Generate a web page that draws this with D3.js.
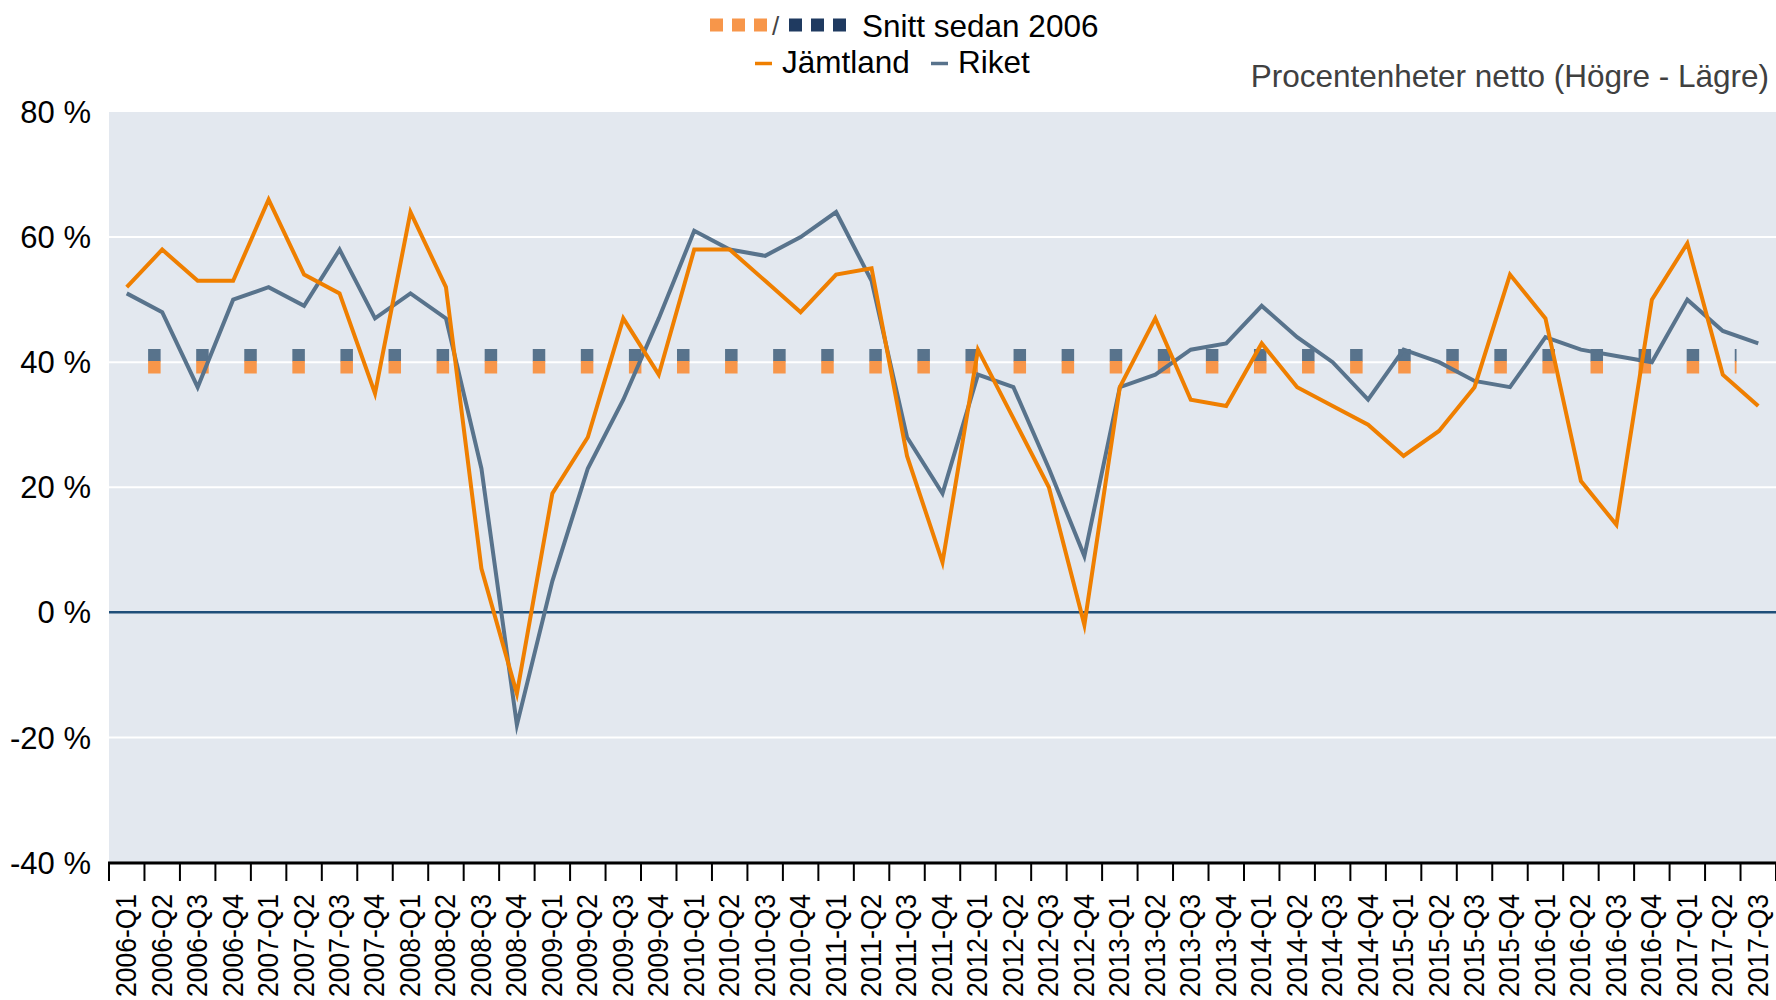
<!DOCTYPE html>
<html>
<head>
<meta charset="utf-8">
<script src="https://cdn.jsdelivr.net/npm/d3@7"></script>
<style>
  body { margin: 0; background: #fff; }
  svg { display: block; font-family: "Liberation Sans", Arial, sans-serif; }
</style>
</head>
<body>
<svg></svg>
<script>
const quarters = [
  "2006-Q1", "2006-Q2", "2006-Q3", "2006-Q4",
  "2007-Q1", "2007-Q2", "2007-Q3", "2007-Q4",
  "2008-Q1", "2008-Q2", "2008-Q3", "2008-Q4",
  "2009-Q1", "2009-Q2", "2009-Q3", "2009-Q4",
  "2010-Q1", "2010-Q2", "2010-Q3", "2010-Q4",
  "2011-Q1", "2011-Q2", "2011-Q3", "2011-Q4",
  "2012-Q1", "2012-Q2", "2012-Q3", "2012-Q4",
  "2013-Q1", "2013-Q2", "2013-Q3", "2013-Q4",
  "2014-Q1", "2014-Q2", "2014-Q3", "2014-Q4",
  "2015-Q1", "2015-Q2", "2015-Q3", "2015-Q4",
  "2016-Q1", "2016-Q2", "2016-Q3", "2016-Q4",
  "2017-Q1", "2017-Q2", "2017-Q3",
];

const jamtland = [
  52, 58, 53, 53, 66, 54, 51, 35, 64, 52, 7, -13,
  19, 28, 47, 38, 58, 58, 53, 48, 54, 55, 25, 8,
  42, 31, 20, -2, 36, 47, 34, 33, 43, 36, 33, 30,
  25, 29, 36, 54, 47, 21, 14, 50, 59, 38, 33,
];

const riket = [
  51, 48, 36, 50, 52, 49, 58, 47, 51, 47, 23, -18,
  5, 23, 34, 47, 61, 58, 57, 60, 64, 53, 28, 19,
  38, 36, 23, 9, 36, 38, 42, 43, 49, 44, 40, 34,
  42, 40, 37, 36, 44, 42, 41, 40, 50, 45, 43,
];

// average since 2006 (drawn as square-dotted lines)
const averages = [
  { name: "Riket", value: 41.1, color: "#58738C" },
  { name: "Jämtland", value: 39.2, color: "#F7964A" },
];

const yTicks = [-40, -20, 0, 20, 40, 60, 80];

const width = 1776;
const height = 1000;
const margin = { top: 112, right: 0, bottom: 137.5, left: 109 };

const svg = d3.select("svg").attr("width", width).attr("height", height);

const x = d3
  .scaleBand()
  .domain(quarters)
  .range([margin.left, width - margin.right])
  .padding(0);
const y = d3
  .scaleLinear()
  .domain([-40, 80])
  .range([height - margin.bottom, margin.top]);

const bw = x.bandwidth();
const cx = (q) => x(q) + bw / 2;

// plot background
svg
  .append("rect")
  .attr("x", margin.left)
  .attr("y", y(80))
  .attr("width", width - margin.right - margin.left)
  .attr("height", y(-40) - y(80))
  .attr("fill", "#E3E8EF");

// gridlines
svg
  .append("g")
  .selectAll("line")
  .data(yTicks.filter((t) => t !== 0 && t !== 80))
  .enter()
  .append("line")
  .attr("x1", margin.left)
  .attr("x2", width - margin.right)
  .attr("y1", (t) => y(t))
  .attr("y2", (t) => y(t))
  .attr("stroke", (t) => (t === -40 ? "#c8ccd2" : "#fff"))
  .attr("stroke-width", 2);

// zero line
svg
  .append("line")
  .attr("x1", margin.left)
  .attr("x2", width - margin.right)
  .attr("y1", y(0))
  .attr("y2", y(0))
  .attr("stroke", "#1F4E79")
  .attr("stroke-width", 2.5);

// y labels
svg
  .append("g")
  .selectAll("text")
  .data(yTicks)
  .enter()
  .append("text")
  .attr("x", 91)
  .attr("y", (t) => y(t))
  .attr("dy", "0.36em")
  .attr("text-anchor", "end")
  .attr("font-size", 31)
  .attr("fill", "#000")
  .text((t) => `${t} %`);

// average markers
const avgStart = cx(quarters[0]);
const avgEnd = x(quarters[quarters.length - 1]) - 4;
svg
  .append("g")
  .selectAll("line")
  .data(averages)
  .enter()
  .append("line")
  .attr("x1", avgStart)
  .attr("x2", avgEnd)
  .attr("y1", (d) => y(d.value))
  .attr("y2", (d) => y(d.value))
  .attr("stroke", (d) => d.color)
  .attr("stroke-width", 12.5)
  .attr("stroke-dasharray", "12.5 35.58")
  .attr("stroke-dashoffset", 26.7);

// series lines
const line = d3
  .line()
  .x((d, i) => cx(quarters[i]))
  .y((d) => y(d));

const series = [
  { name: "Riket", values: riket, color: "#58738C" },
  { name: "Jämtland", values: jamtland, color: "#EF7F00" },
];

svg
  .append("g")
  .selectAll("path")
  .data(series)
  .enter()
  .append("path")
  .attr("d", (s) => line(s.values))
  .attr("fill", "none")
  .attr("stroke", (s) => s.color)
  .attr("stroke-width", 4)
  .attr("stroke-linejoin", "miter")
  .attr("stroke-miterlimit", 10);

// x axis
const axisY = y(-40) + 0.5;
svg
  .append("line")
  .attr("x1", margin.left - 1)
  .attr("x2", width - margin.right)
  .attr("y1", axisY)
  .attr("y2", axisY)
  .attr("stroke", "#000")
  .attr("stroke-width", 3);

svg
  .append("g")
  .selectAll("line")
  .data(quarters.concat(["end"]))
  .enter()
  .append("line")
  .attr("x1", (q, i) => margin.left + i * bw)
  .attr("x2", (q, i) => margin.left + i * bw)
  .attr("y1", axisY)
  .attr("y2", axisY + 18)
  .attr("stroke", "#000")
  .attr("stroke-width", 2);

svg
  .append("g")
  .selectAll("text")
  .data(quarters)
  .enter()
  .append("text")
  .attr("transform", (q) => `translate(${cx(q) - 1},${axisY + 31}) rotate(-90)`)
  .attr("dy", "0.36em")
  .attr("text-anchor", "end")
  .attr("font-size", 29)
  .attr("textLength", 103)
  .attr("lengthAdjust", "spacingAndGlyphs")
  .attr("fill", "#000")
  .text((q) => q);

// unit label
svg
  .append("text")
  .attr("x", 1769)
  .attr("y", 86.5)
  .attr("text-anchor", "end")
  .attr("font-size", 31.5)
  .attr("fill", "#404040")
  .text("Procentenheter netto (Högre - Lägre)");

// legend
const legend = svg.append("g");
const legendSquares = [
  { x: 710, color: "#F7964A" },
  { x: 732, color: "#F7964A" },
  { x: 754, color: "#F7964A" },
  { x: 789, color: "#1F3A60" },
  { x: 811, color: "#1F3A60" },
  { x: 833, color: "#1F3A60" },
];
legend
  .selectAll("rect")
  .data(legendSquares)
  .enter()
  .append("rect")
  .attr("x", (d) => d.x)
  .attr("y", 18.5)
  .attr("width", 13)
  .attr("height", 13)
  .attr("fill", (d) => d.color);

legend
  .append("text")
  .attr("x", 772)
  .attr("y", 35)
  .attr("font-size", 26)
  .attr("fill", "#444")
  .text("/");

legend
  .append("text")
  .attr("x", 862)
  .attr("y", 36.5)
  .attr("font-size", 31.5)
  .attr("fill", "#000")
  .text("Snitt sedan 2006");

const legendLines = [
  { x: 755, tx: 782, label: "Jämtland", color: "#EF7F00" },
  { x: 931, tx: 958, label: "Riket", color: "#58738C" },
];
legendLines.forEach((d) => {
  legend
    .append("line")
    .attr("x1", d.x)
    .attr("x2", d.x + 17)
    .attr("y1", 63.5)
    .attr("y2", 63.5)
    .attr("stroke", d.color)
    .attr("stroke-width", 3.5);
  legend
    .append("text")
    .attr("x", d.tx)
    .attr("y", 73)
    .attr("font-size", 31.5)
    .attr("fill", "#000")
    .text(d.label);
});
</script>
</body>
</html>
